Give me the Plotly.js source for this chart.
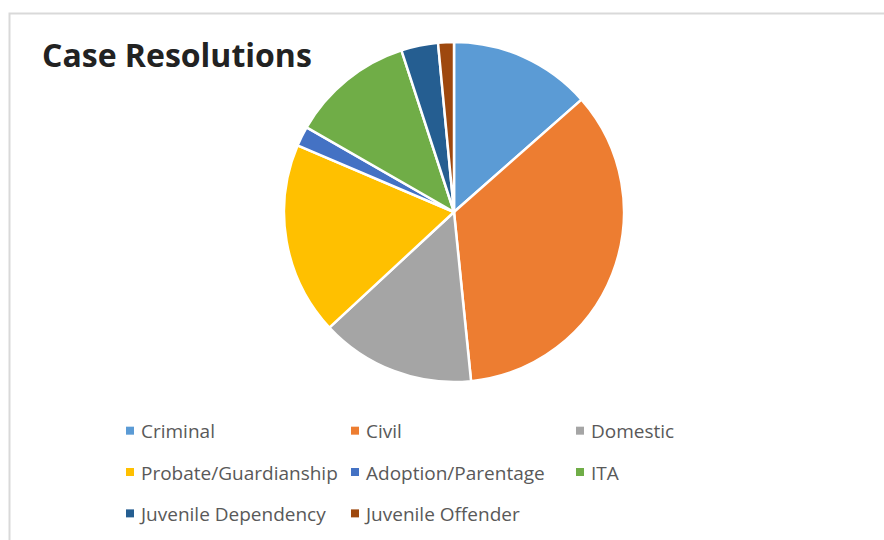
<!DOCTYPE html>
<html><head><meta charset="utf-8">
<script src="https://cdn.plot.ly/plotly-3.0.1.min.js"></script>
<style>html,body{margin:0;padding:0;background:#fff}#c{width:884px;height:540px}</style>
</head><body><div id="c"></div>
<script>
const categories = ["Criminal","Civil","Domestic","Probate/Guardianship","Adoption/Parentage","ITA","Juvenile Dependency","Juvenile Offender"];
const values = [13.5, 34.9, 14.7, 18.3, 1.9, 11.7, 3.5, 1.5];
const colors = ["#5B9BD5","#ED7D31","#A5A5A5","#FFC000","#4472C4","#70AD47","#255E91","#9E480E"];

const W = 884, H = 540;
const data = [{
  type: "pie",
  labels: categories.map(c => '<span style="font-size:19px">' + c + '</span>'),
  values: values, sort: false, direction: "clockwise", rotation: 0,
  marker: {colors: colors, line: {color: "#fff", width: 2.5}},
  textinfo: "none", hoverinfo: "percent",
  domain: {x: [284/W, 624/W], y: [(H-382)/H, (H-42)/H]}
}];
const layout = {
  width: W, height: H, margin: {l:0,r:0,t:0,b:0},
  paper_bgcolor: "#fff",
  title: {text: "<b>Case Resolutions</b>", x: 42/W, xanchor: "left", y: 1-56/H, yanchor: "middle",
          font: {family: "Open Sans", size: 32, color: "#222"}},
  showlegend: true,
  legend: {orientation: "h", x: 101/W, xanchor: "left", y: 1-401/H, yanchor: "top",
           font: {family: "Open Sans", size: 29.5, color: "#595959"},
           entrywidth: 180, entrywidthmode: "pixels", itemwidth: 30,
           traceorder: "normal"},
  shapes: [{type: "rect", xref: "paper", yref: "paper", x0: 9.5/W, x1: 1.02, y0: -0.02, y1: 1-13.5/H,
            line: {color: "#d9d9d9", width: 2}}]
};
Plotly.newPlot("c", data, layout, {displayModeBar: false, staticPlot: true}).then(gd => {
  gd.querySelectorAll("path.legendpie").forEach(p => {
    p.setAttribute("d", "M13,8H5V0H13Z");
    p.style.strokeWidth = "0";
  });
});
</script></body></html>
